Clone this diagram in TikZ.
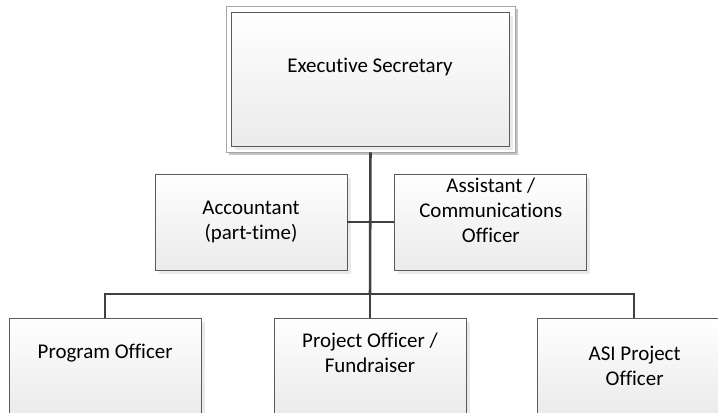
\documentclass[tikz,border=0pt]{standalone}
\usepackage{fontspec}
\setmainfont[RawFeature={-liga;-clig;-calt;-rlig}]{Carlito}
\usetikzlibrary{positioning,shadows}
\definecolor{lineGray}{HTML}{404040}
\definecolor{boxGray}{HTML}{5A5A5A}
\tikzset{
myBox/.style={
	rectangle,draw=boxGray,line width=0.6pt,
	top color=white,bottom color=black!8,
	minimum width=4.8cm,minimum height=2.4cm,
	inner sep=0pt,
	drop shadow={shadow xshift=0.09cm,shadow yshift=-0.09cm,fill=black!16}
}
, myFrame/.style={
	rectangle,draw=black!35,line width=0.6pt,fill=white,
	minimum width=7.225cm,minimum height=3.65cm,
	inner sep=0pt,
	drop shadow={shadow xshift=0.08cm,shadow yshift=-0.08cm,fill=black!45}
}
, myText/.style={
	align=center,inner sep=0pt,text=black,
	font=\fontsize{14.9}{17.8}\selectfont
}
% link
, myLink/.style={draw=lineGray,line width=1.8pt}
}

\begin{document}
\begin{tikzpicture}
	\useasboundingbox (0,0) rectangle (17.95,10.3);
	% nodes
	\node[myFrame] (Top) at (9.2625,8.325) {};
	\node[myBox,minimum width=6.95cm,minimum height=3.35cm,drop shadow={opacity=0}] (Exec) at (9.25,8.325) {};
	\node[myBox] (Acc) at (6.275,4.75) {};
	\node[myBox] (Asst) [right=1.175cm of Acc] {};
	\node[myBox] (Proj) at (9.25,1.15) {};
	\node[myBox] (Prog) [left=1.8cm of Proj] {};
	\node[myBox] (Asi) [right=1.775cm of Proj] {};
	% texts
	\node[myText] (ExecT) at ([yshift=0.3cm]Exec.center) {Executive Secretary};
	\node[myText] (AccT) at (Acc.center) {Accountant\\(part-time)};
	\node[myText] (AsstT) at ([yshift=0.3cm]Asst.center) {Assistant /\\Communications\\Officer};
	\node[myText] (ProgT) at ([yshift=0.325cm]Prog.center) {Program Officer};
	\node[myText] (ProjT) at ([yshift=0.325cm]Proj.center) {Project Officer /\\Fundraiser};
	\node[myText] (AsiT) at ([xshift=0.02cm]Asi.center) {ASI Project\\Officer};
	% bar
	\coordinate (Bar) at (9.25,2.95);

	% links
	\draw [myLink] (Top.south) -- (Bar);
	\draw [myLink] (Acc.east) -- (Asst.west);
	\draw [myLink] (Prog.north) |- (Bar) -| (Asi.north);
	\draw [myLink] (Bar) -- (Proj.north);
\end{tikzpicture}
\end{document}
